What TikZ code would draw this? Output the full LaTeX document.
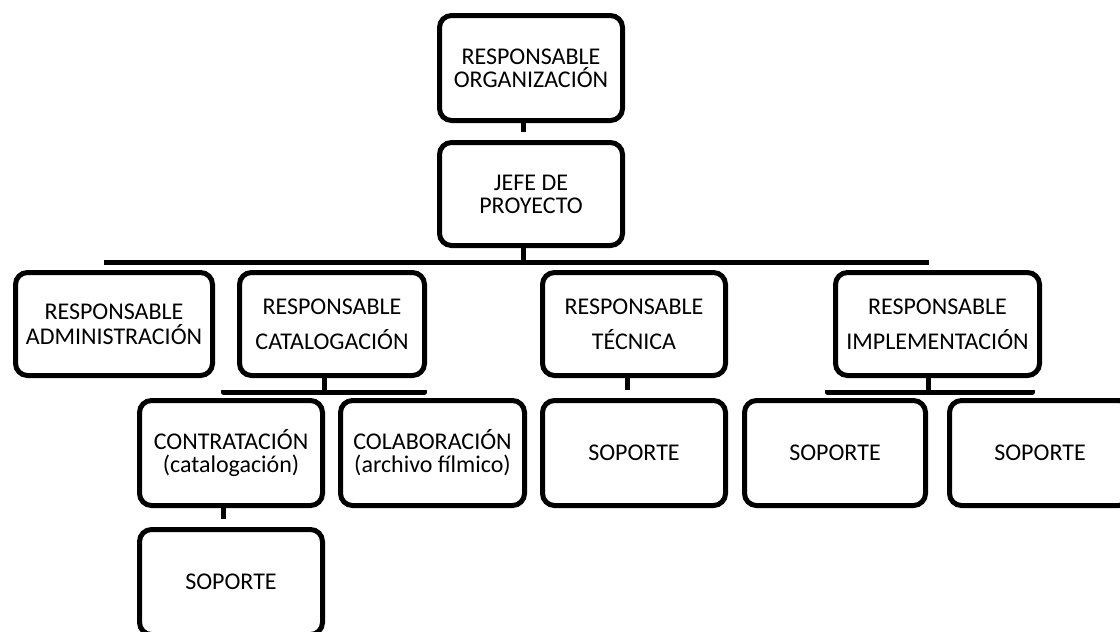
\documentclass[tikz,border=0pt]{standalone}
\usepackage{fontspec}
\setmainfont{Carlito}
\begin{document}
\begin{tikzpicture}[x=0.5pt, y=-0.5pt, box/.style = {draw, fill=white, line width=2.5pt, rounded corners=6pt, align=center, inner sep=0pt, minimum width=91.5pt, minimum height=52.5pt, font=\fontsize{12}{11.5}\selectfont}, conn/.style = {line width=2.5pt, line join=round, shorten >=4pt}]
		\useasboundingbox (0,0) rectangle (1120,632);
		\node[box] (org) at (531,68) {RESPONSABLE\\ORGANIZACIÓN};
		\node[box, minimum height=51.5pt] (jefe) at (531,194) {JEFE DE\\PROYECTO};
		\node[box, minimum width=98.5pt, minimum height=51.5pt] (admin) at (114,324) {RESPONSABLE\\[1pt]ADMINISTRACIÓN};
		\node[box, minimum width=92.5pt, minimum height=51.5pt] (catal) at (332,324) {RESPONSABLE\\[6pt]CATALOGACIÓN};
		\node[box, minimum height=51.5pt] (tecnica) at (634,324) {RESPONSABLE\\[6pt]TÉCNICA};
		\node[box, minimum width=102pt, minimum height=51.5pt] (implem) at (937.5,324) {RESPONSABLE\\[6pt]IMPLEMENTACIÓN};
		\node[box] (contrat) at (231,453) {CONTRATACIÓN\\(catalogación)};
		\node[box, minimum width=92pt] (colab) at (432.5,453) {COLABORACIÓN\\(archivo fílmico)};
		\node[box] (soptec) at (634,453) {SOPORTE};
		\node[box, minimum width=90.5pt] (sopimp1) at (835,453) {SOPORTE};
		\node[box, minimum width=90.5pt] (sopimp2) at (1040,453) {SOPORTE};
		\node[box] (sopcon) at (231,582) {SOPORTE};
		\draw[conn] ([xshift=-4pt]org.south) -- ([xshift=-4pt]jefe.north);
		\draw[conn] ([xshift=-4pt]jefe.south) -- ++(0,14) -| ([xshift=-5pt]admin.north);
		\draw[conn] ([xshift=-4pt]jefe.south) -- ++(0,14) -| ([xshift=-4pt]catal.north);
		\draw[conn] ([xshift=-4pt]jefe.south) -- ++(0,14) -| ([xshift=-3.5pt]tecnica.north);
		\draw[conn] ([xshift=-4pt]jefe.south) -- ++(0,14) -| ([xshift=-4.5pt]implem.north);
		\draw[conn] ([xshift=-4pt]catal.south) -- ++(0,14) -| ([xshift=-4pt]contrat.north);
		\draw[conn] ([xshift=-4pt]catal.south) -- ++(0,14) -| ([xshift=-4pt]colab.north);
		\draw[conn] ([xshift=-3.5pt]tecnica.south) -- ([xshift=-3.5pt]soptec.north);
		\draw[conn] ([xshift=-4.5pt]implem.south) -- ++(0,14) -| ([xshift=-4pt]sopimp1.north);
		\draw[conn] ([xshift=-4.5pt]implem.south) -- ++(0,14) -| ([xshift=-4pt]sopimp2.north);
		\draw[conn] ([xshift=-4pt]contrat.south) -- ([xshift=-4pt]sopcon.north);
\end{tikzpicture}
\end{document}
